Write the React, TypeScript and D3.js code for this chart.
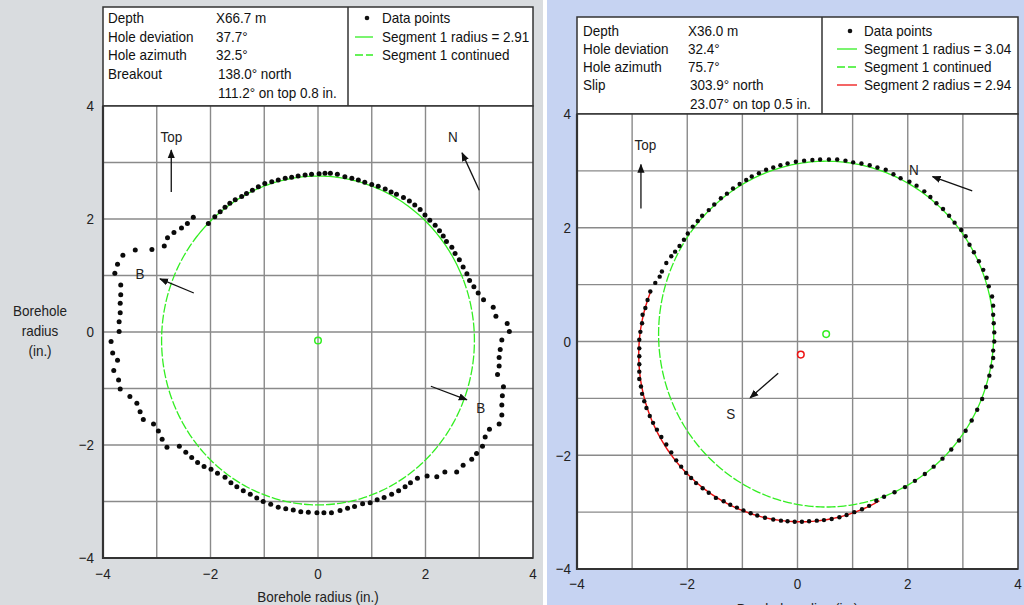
import React from "react";
import * as d3 from "d3";

// ---------- DATA ----------
const tickValues = [-4, -2, 0, 2, 4];
const gridValues = [-3, -2, -1, 0, 1, 2, 3];

// Left chart (breakout example)
const leftInfoLabels = ["Depth", "Hole deviation", "Hole azimuth", "Breakout", ""];
const leftInfoValues = ["X66.7 m", "37.7°", "32.5°", "138.0° north", "111.2° on top 0.8 in."];
const leftLegend = ["Data points", "Segment 1 radius = 2.91", "Segment 1 continued"];
const leftFit1 = { cx: 0.0, cy: -0.15, r: 2.91, solidFrom: 22, solidTo: 140 };

const leftPoints: [number, number][] = [
  [-2.04, 1.92], [-1.92, 2.04], [-1.82, 2.13], [-1.73, 2.21], [-1.64, 2.28], [-1.54, 2.34], [-1.42, 2.4], [-1.33, 2.45],
  [-1.22, 2.51], [-1.11, 2.57], [-0.99, 2.63], [-0.86, 2.66], [-0.74, 2.69], [-0.61, 2.72], [-0.49, 2.74], [-0.37, 2.76],
  [-0.24, 2.78], [-0.12, 2.79], [0.02, 2.8], [0.13, 2.81], [0.23, 2.81], [0.36, 2.79], [0.5, 2.75], [0.63, 2.72],
  [0.75, 2.69], [0.87, 2.65], [1.0, 2.61], [1.12, 2.58], [1.25, 2.53], [1.36, 2.48], [1.46, 2.44], [1.59, 2.38],
  [1.7, 2.32], [1.8, 2.25], [1.9, 2.17], [1.99, 2.07], [2.08, 1.98], [2.18, 1.89], [2.26, 1.79], [2.33, 1.7],
  [2.39, 1.6], [2.49, 1.5], [2.55, 1.39], [2.63, 1.28], [2.7, 1.15], [2.77, 1.03], [2.82, 0.91], [2.9, 0.8],
  [2.98, 0.69], [3.08, 0.57], [3.26, 0.44], [3.31, 0.28], [3.52, 0.15], [3.56, 0.01], [3.42, -0.14], [3.39, -0.31],
  [3.37, -0.45], [3.37, -0.6], [3.34, -0.75], [3.45, -0.97], [3.43, -1.13], [3.42, -1.29], [3.42, -1.47], [3.37, -1.63],
  [3.19, -1.72], [3.11, -1.86], [3.06, -2.02], [2.95, -2.15], [2.86, -2.25], [2.7, -2.36], [2.58, -2.48], [2.36, -2.48],
  [2.21, -2.56], [2.03, -2.55], [1.85, -2.59], [1.72, -2.67], [1.62, -2.74], [1.5, -2.81], [1.37, -2.87], [1.23, -2.93],
  [1.1, -2.97], [0.97, -3.02], [0.83, -3.04], [0.68, -3.09], [0.55, -3.12], [0.41, -3.16], [0.25, -3.2], [0.11, -3.2],
  [-0.02, -3.2], [-0.18, -3.19], [-0.32, -3.18], [-0.46, -3.15], [-0.6, -3.13], [-0.74, -3.1], [-0.88, -3.05], [-1.02, -3.0],
  [-1.14, -2.94], [-1.26, -2.87], [-1.39, -2.81], [-1.51, -2.74], [-1.62, -2.67], [-1.73, -2.57], [-1.87, -2.5], [-1.99, -2.43],
  [-2.12, -2.38], [-2.24, -2.31], [-2.35, -2.22], [-2.46, -2.13], [-2.58, -2.02], [-2.81, -2.04], [-2.9, -1.9], [-2.97, -1.75],
  [-3.06, -1.63], [-3.25, -1.55], [-3.31, -1.41], [-3.37, -1.26], [-3.5, -1.14], [-3.68, -1.01], [-3.71, -0.85], [-3.8, -0.68],
  [-3.73, -0.5], [-3.82, -0.37], [-3.85, -0.17], [-3.7, 0.01], [-3.7, 0.18], [-3.68, 0.34], [-3.68, 0.51], [-3.67, 0.66],
  [-3.67, 0.83], [-3.78, 1.04], [-3.73, 1.2], [-3.63, 1.36], [-3.4, 1.45], [-3.09, 1.46], [-2.86, 1.52], [-2.8, 1.67],
  [-2.68, 1.76], [-2.54, 1.84], [-2.43, 1.92], [-2.32, 2.03],
];

// Right chart (slip example)
const rightInfoLabels = ["Depth", "Hole deviation", "Hole azimuth", "Slip", ""];
const rightInfoValues = ["X36.0 m", "32.4°", "75.7°", "303.9° north", "23.07° on top 0.5 in."];
const rightLegend = ["Data points", "Segment 1 radius = 3.04", "Segment 1 continued", "Segment 2 radius = 2.94"];
const rightFit1 = { cx: 0.52, cy: 0.13, r: 3.04, solidFrom: -70, solidTo: 141 };
const rightFit2 = { cx: 0.06, cy: -0.23, r: 2.94, from: 158, to: 299 };

const rightPoints: [number, number][] = [
  [-2.87, -0.26], [-2.87, -0.12], [-2.87, 0.03], [-2.85, 0.17], [-2.82, 0.32], [-2.81, 0.47], [-2.76, 0.59], [-2.72, 0.73],
  [-2.67, 0.88], [-2.58, 1.03], [-2.5, 1.14], [-2.46, 1.23], [-2.38, 1.38], [-2.29, 1.5], [-2.22, 1.58], [-2.14, 1.68],
  [-2.06, 1.79], [-1.99, 1.9], [-1.9, 2.02], [-1.81, 2.12], [-1.73, 2.21], [-1.61, 2.31], [-1.51, 2.41], [-1.39, 2.52],
  [-1.28, 2.6], [-1.17, 2.69], [-1.05, 2.77], [-0.93, 2.84], [-0.83, 2.9], [-0.7, 2.96], [-0.57, 3.02], [-0.44, 3.06],
  [-0.31, 3.1], [-0.18, 3.13], [-0.03, 3.16], [0.12, 3.18], [0.27, 3.19], [0.41, 3.2], [0.57, 3.2], [0.72, 3.2],
  [0.87, 3.18], [1.01, 3.15], [1.16, 3.13], [1.31, 3.1], [1.45, 3.06], [1.6, 3.02], [1.74, 2.94], [1.87, 2.87],
  [2.03, 2.81], [2.16, 2.74], [2.3, 2.64], [2.41, 2.54], [2.52, 2.43], [2.64, 2.33], [2.75, 2.21], [2.85, 2.09],
  [2.97, 1.96], [3.05, 1.85], [3.12, 1.7], [3.2, 1.57], [3.29, 1.41], [3.37, 1.26], [3.43, 1.12], [3.47, 0.97],
  [3.53, 0.79], [3.55, 0.63], [3.55, 0.47], [3.56, 0.32], [3.57, 0.16], [3.57, 0.0], [3.55, -0.16], [3.55, -0.29],
  [3.52, -0.44], [3.48, -0.6], [3.42, -0.8], [3.35, -1.01], [3.26, -1.2], [3.16, -1.39], [3.05, -1.57], [2.93, -1.74],
  [2.79, -1.9], [2.63, -2.06], [2.47, -2.2], [2.31, -2.33], [2.13, -2.45], [1.95, -2.56], [1.76, -2.65], [1.57, -2.73],
  [1.43, -2.8], [1.3, -2.89], [1.17, -2.95], [1.03, -3.0], [0.89, -3.05], [0.76, -3.09], [0.62, -3.12], [0.48, -3.14],
  [0.35, -3.15], [0.21, -3.16], [0.08, -3.17], [-0.05, -3.17], [-0.18, -3.16], [-0.3, -3.15], [-0.44, -3.13], [-0.59, -3.1],
  [-0.73, -3.06], [-0.85, -3.02], [-0.98, -2.97], [-1.1, -2.92], [-1.22, -2.87], [-1.34, -2.81], [-1.48, -2.75], [-1.61, -2.66],
  [-1.72, -2.58], [-1.84, -2.49], [-1.93, -2.4], [-2.02, -2.31], [-2.11, -2.2], [-2.2, -2.09], [-2.29, -1.95], [-2.38, -1.81],
  [-2.47, -1.68], [-2.55, -1.55], [-2.62, -1.43], [-2.68, -1.31], [-2.74, -1.17], [-2.78, -1.05], [-2.82, -0.92], [-2.84, -0.79],
  [-2.87, -0.66], [-2.87, -0.53], [-2.87, -0.4],
];

// Annotations: [label, labelX, labelY, arrowFromX, arrowFromY, arrowToX, arrowToY]
const leftAnnotations: [string, number, number, number, number, number, number][] = [
  ["Top", -2.73, 3.45, -2.73, 2.48, -2.73, 3.22],
  ["N", 2.51, 3.45, 3.0, 2.51, 2.68, 3.17],
  ["B", -3.31, 1.03, -2.31, 0.69, -2.94, 0.94],
  ["B", 3.03, -1.33, 2.1, -0.96, 2.77, -1.2],
];
const rightAnnotations: [string, number, number, number, number, number, number][] = [
  ["Top", -2.76, 3.46, -2.84, 2.34, -2.84, 3.11],
  ["N", 2.11, 3.02, 3.17, 2.65, 2.45, 2.9],
  ["S", -1.21, -1.26, -0.35, -0.56, -0.86, -0.99],
];

// ---------- STYLE ----------
const FONT = "'Liberation Sans', Arial, sans-serif";
const FS = 15;
const SX = 0.9;
const GREEN = "#33ee22";
const RED = "#ee1111";
const FRAME = "#333";
const GRID = "#8a8a8a";

type Fit = { cx: number; cy: number; r: number };

function arcPath(fit: Fit, a0: number, a1: number, xs: any, ys: any) {
  const step = 1;
  const angles = d3.range(a0, a1 + step / 2, step);
  const line = d3
    .line<number>()
    .x((a) => xs(fit.cx + fit.r * Math.cos((a * Math.PI) / 180)))
    .y((a) => ys(fit.cy + fit.r * Math.sin((a * Math.PI) / 180)));
  return line(angles) || "";
}

// condensed text: horizontally squeezed around its anchor point
function CText(props: { x: number; y: number; anchor?: string; fill?: string; children: any }) {
  return (
    <text
      transform={`translate(${props.x},${props.y}) scale(${SX},1)`}
      dy="0.36em"
      textAnchor={props.anchor || "start"}
      fontFamily={FONT}
      fontSize={FS}
      fill={props.fill || "#111"}
    >
      {props.children}
    </text>
  );
}

type PanelProps = {
  id: string;
  bg: string;
  bgX0: number;
  bgX1: number;
  xRange: [number, number];
  yRange: [number, number];
  boxTop: number;
  divider: number;
  rowY: number[];
  labelX: number;
  valueX: number;
  infoLabels: string[];
  infoValues: string[];
  legend: string[];
  legendLineX: [number, number];
  legendTextX: number;
  xTickY: number;
  xTitleY: number;
  yTickX: number;
  yTitleX?: number;
  points: [number, number][];
  dotR: number;
  fit1: Fit & { solidFrom: number; solidTo: number };
  fit2?: Fit & { from: number; to: number };
  annotations: [string, number, number, number, number, number, number][];
};

const fmt = (v: number) => (v < 0 ? "\u2212" + Math.abs(v) : String(v));

function Panel(p: PanelProps) {
  const xs = d3.scaleLinear().domain([-4, 4]).range(p.xRange);
  const ys = d3.scaleLinear().domain([-4, 4]).range(p.yRange);
  const [x0, x1] = p.xRange;
  const [yb, yt] = p.yRange;
  return (
    <g clipPath={`url(#clip-${p.id})`}>
      <defs>
        <clipPath id={`clip-${p.id}`}>
          <rect x={p.bgX0} y={0} width={p.bgX1 - p.bgX0} height={605} />
        </clipPath>
        <marker id={`arrow-${p.id}`} viewBox="0 0 10 10" refX={9} refY={5} markerWidth={9} markerHeight={9} orient="auto" markerUnits="userSpaceOnUse">
          <path d="M0,1 L10,5 L0,9 Z" fill="#111" />
        </marker>
      </defs>
      <rect x={p.bgX0} y={0} width={p.bgX1 - p.bgX0} height={605} fill={p.bg} />
      {/* info box */}
      <rect x={x0} y={p.boxTop} width={x1 - x0} height={yt - p.boxTop} fill="#fff" stroke={FRAME} strokeWidth={1.5} />
      <line x1={p.divider} x2={p.divider} y1={p.boxTop} y2={yt} stroke={FRAME} strokeWidth={1.5} />
      {p.infoLabels.map((t, i) => (
        <CText key={"l" + i} x={p.labelX} y={p.rowY[i]}>{t}</CText>
      ))}
      {p.infoValues.map((t, i) => (
        <CText key={"v" + i} x={p.valueX + (i >= 3 ? 2 : 0)} y={p.rowY[i]}>{t}</CText>
      ))}
      {p.legend.map((t, i) => (
        <CText key={"g" + i} x={p.legendTextX} y={p.rowY[i]}>{t}</CText>
      ))}
      {/* legend symbols */}
      <circle cx={(p.legendLineX[0] + p.legendLineX[1]) / 2 + 3} cy={p.rowY[0]} r={2.3} fill="#111" />
      <line x1={p.legendLineX[0]} x2={p.legendLineX[1]} y1={p.rowY[1]} y2={p.rowY[1]} stroke={GREEN} strokeWidth={1.3} />
      <line x1={p.legendLineX[0]} x2={p.legendLineX[1]} y1={p.rowY[2]} y2={p.rowY[2]} stroke={GREEN} strokeWidth={1.3} strokeDasharray="8,3" />
      {p.legend.length > 3 && (
        <line x1={p.legendLineX[0]} x2={p.legendLineX[1]} y1={p.rowY[3]} y2={p.rowY[3]} stroke={RED} strokeWidth={1.3} />
      )}
      {/* plot area */}
      <rect x={x0} y={yt} width={x1 - x0} height={yb - yt} fill="#fff" />
      {gridValues.map((v) => (
        <g key={"gr" + v}>
          <line x1={xs(v)} x2={xs(v)} y1={yt} y2={yb} stroke={GRID} strokeWidth={1.4} />
          <line x1={x0} x2={x1} y1={ys(v)} y2={ys(v)} stroke={GRID} strokeWidth={1.4} />
        </g>
      ))}
      {/* fit curves */}
      <path d={arcPath(p.fit1, p.fit1.solidFrom, p.fit1.solidTo, xs, ys)} fill="none" stroke={GREEN} strokeWidth={1.3} />
      <path d={arcPath(p.fit1, p.fit1.solidTo, p.fit1.solidFrom + 360, xs, ys)} fill="none" stroke={GREEN} strokeWidth={1.3} strokeDasharray="9,2" />
      {p.fit2 && (
        <path d={arcPath(p.fit2, p.fit2.from, p.fit2.to, xs, ys)} fill="none" stroke={RED} strokeWidth={1.4} />
      )}
      <circle cx={xs(p.fit1.cx)} cy={ys(p.fit1.cy)} r={3.3} fill="none" stroke={GREEN} strokeWidth={1.5} />
      {p.fit2 && <circle cx={xs(p.fit2.cx)} cy={ys(p.fit2.cy)} r={3.3} fill="none" stroke={RED} strokeWidth={1.5} />}
      {/* data points */}
      {p.points.map(([x, y], i) => (
        <circle key={"p" + i} cx={xs(x)} cy={ys(y)} r={p.dotR} fill="#0a0a0a" />
      ))}
      {/* annotations */}
      {p.annotations.map(([t, lx, ly, ax, ay, bx, by], i) => (
        <g key={"a" + i}>
          <line x1={xs(ax)} y1={ys(ay)} x2={xs(bx)} y2={ys(by)} stroke="#111" strokeWidth={1.3} markerEnd={`url(#arrow-${p.id})`} />
          <CText x={xs(lx)} y={ys(ly)} anchor="middle" fill="#222">{t}</CText>
        </g>
      ))}
      {/* frame */}
      <rect x={x0} y={yt} width={x1 - x0} height={yb - yt} fill="none" stroke={FRAME} strokeWidth={1.5} />
      <line x1={x0} x2={x0} y1={yt} y2={yb + 1} stroke={FRAME} strokeWidth={2.2} />
      <line x1={x0 - 1} x2={x1} y1={yb} y2={yb} stroke={FRAME} strokeWidth={2.2} />
      {/* axes labels */}
      {tickValues.map((v) => (
        <CText key={"xt" + v} x={xs(v)} y={p.xTickY} anchor="middle" fill="#222">{fmt(v)}</CText>
      ))}
      {tickValues.map((v) => (
        <CText key={"yt" + v} x={p.yTickX} y={ys(v)} anchor="end" fill="#222">{fmt(v)}</CText>
      ))}
      <CText x={xs(0)} y={p.xTitleY} anchor="middle" fill="#222">Borehole radius (in.)</CText>
      {p.yTitleX !== undefined && (
        <>
          <CText x={p.yTitleX} y={311} anchor="middle" fill="#222">Borehole</CText>
          <CText x={p.yTitleX} y={331} anchor="middle" fill="#222">radius</CText>
          <CText x={p.yTitleX} y={351} anchor="middle" fill="#222">(in.)</CText>
        </>
      )}
    </g>
  );
}

export default function App() {
  return (
    <svg width={1024} height={605} style={{ position: "absolute", left: 0, top: 0, background: "#fff" }}>
      <Panel
        id="left"
        bg="#d9dcdf"
        bgX0={0}
        bgX1={543}
        xRange={[103, 533]}
        yRange={[558, 106]}
        boxTop={7}
        divider={348}
        rowY={[18, 37, 55, 74, 93]}
        labelX={108}
        valueX={216}
        infoLabels={leftInfoLabels}
        infoValues={leftInfoValues}
        legend={leftLegend}
        legendLineX={[355, 373]}
        legendTextX={382}
        xTickY={574}
        xTitleY={597}
        yTickX={94}
        yTitleX={40}
        points={leftPoints}
        dotR={2.5}
        fit1={leftFit1}
        annotations={leftAnnotations}
      />
      <Panel
        id="right"
        bg="#c6d3f2"
        bgX0={547}
        bgX1={1024}
        xRange={[577, 1018]}
        yRange={[569, 114]}
        boxTop={17}
        divider={822}
        rowY={[31, 49, 67, 85, 104]}
        labelX={583}
        valueX={688}
        infoLabels={rightInfoLabels}
        infoValues={rightInfoValues}
        legend={rightLegend}
        legendLineX={[837, 857]}
        legendTextX={864}
        xTickY={584}
        xTitleY={609}
        yTickX={571}
        points={rightPoints}
        dotR={2.2}
        fit1={rightFit1}
        fit2={rightFit2}
        annotations={rightAnnotations}
      />
    </svg>
  );
}
